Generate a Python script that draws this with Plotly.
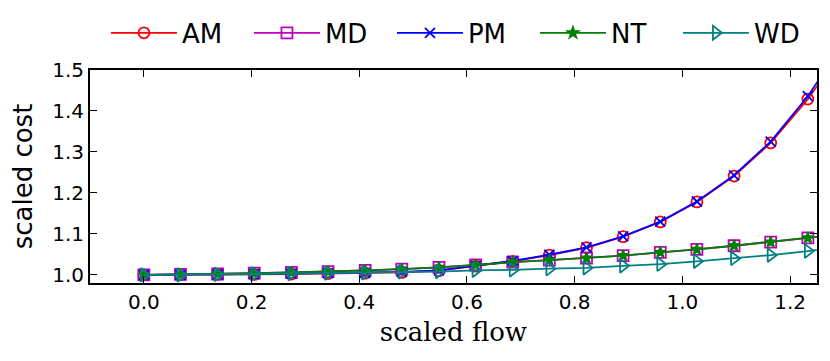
import plotly.graph_objects as go

flow = [0.0, 0.068, 0.137, 0.205, 0.274, 0.342, 0.411, 0.479, 0.548, 0.616,
        0.685, 0.753, 0.822, 0.890, 0.959, 1.027, 1.096, 1.164, 1.233, 1.301]

am = [1.000, 1.000, 1.001, 1.001, 1.002, 1.003, 1.004, 1.006, 1.010, 1.021,
      1.033, 1.048, 1.066, 1.093, 1.129, 1.178, 1.241, 1.322, 1.429, 1.555]
md = [1.000, 1.001, 1.002, 1.004, 1.006, 1.008, 1.011, 1.014, 1.018, 1.024,
      1.031, 1.036, 1.041, 1.047, 1.055, 1.062, 1.071, 1.080, 1.090, 1.100]
pm = [1.000, 1.000, 1.001, 1.002, 1.003, 1.004, 1.005, 1.007, 1.011, 1.022,
      1.034, 1.049, 1.067, 1.094, 1.130, 1.179, 1.243, 1.325, 1.436, 1.570]
nt = [1.000, 1.001, 1.002, 1.004, 1.006, 1.008, 1.011, 1.014, 1.018, 1.024,
      1.031, 1.036, 1.041, 1.047, 1.055, 1.062, 1.071, 1.080, 1.090, 1.100]
wd = [1.000, 1.000, 1.001, 1.002, 1.003, 1.004, 1.005, 1.007, 1.008, 1.011,
      1.012, 1.015, 1.017, 1.022, 1.026, 1.033, 1.040, 1.048, 1.058, 1.069]

series = [
    ("AM", am, "red", "circle-open", 11),
    ("MD", md, "#bf00bf", "square-open", 11),
    ("PM", pm, "blue", "x-thin-open", 10),
    ("NT", nt, "green", "star", 8),
    ("WD", wd, "#008080", "triangle-right-open", 12),
]

fig = go.Figure()
for name, vals, col, sym, sz in series:
    fig.add_trace(go.Scatter(
        x=flow, y=vals, name=name, mode="lines+markers",
        line=dict(color=col, width=1.8),
        marker=dict(symbol=sym, size=sz, color=col,
                    line=dict(color=col, width=1.8)),
    ))

axis_common = dict(
    showline=True, linecolor="black", linewidth=2, mirror="allticks",
    ticks="inside", ticklen=7, tickcolor="black", tickwidth=1,
    showgrid=False, zeroline=False, automargin=False,
    tickfont=dict(family="DejaVu Sans", size=20, color="black"),
)

fig.update_xaxes(range=[-0.1, 1.25], dtick=0.2, tickformat=".1f",
                 title=dict(text="scaled flow", standoff=10,
                            font=dict(family="DejaVu Serif", size=26, color="black")),
                 **axis_common)
fig.update_yaxes(range=[0.98, 1.5], tickvals=[1.0, 1.1, 1.2, 1.3, 1.4, 1.5],
                 tickformat=".1f",
                 title=dict(text="scaled cost", standoff=12,
                            font=dict(family="DejaVu Sans", size=26, color="black")),
                 **axis_common)

# page has an 8px body margin, so the plot box is nudged up/left by that
fig.update_layout(
    width=830, height=361,
    margin=dict(l=82, r=21, t=62, b=86),
    plot_bgcolor="white", paper_bgcolor="white",
    legend=dict(orientation="h", xref="container", yref="container",
                x=0.118, xanchor="left", y=0.931, yanchor="middle",
                font=dict(family="DejaVu Sans", size=26, color="black"),
                entrywidth=62, itemwidth=66),
)

fig.write_html("out.html")
